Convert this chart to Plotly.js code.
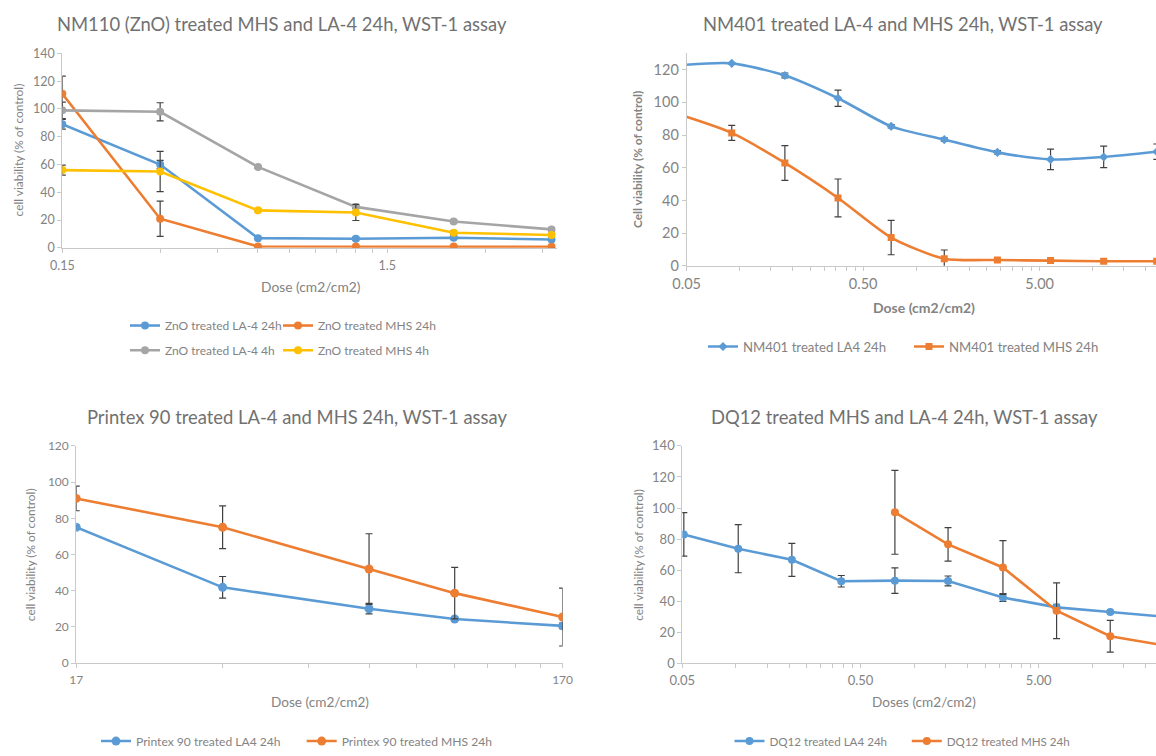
<!DOCTYPE html>
<html>
<head>
<meta charset="utf-8">
<script src="https://cdn.plot.ly/plotly-3.0.1.min.js"></script>
<style>html,body{margin:0;padding:0;background:#fff;overflow:hidden;}#chart{width:1156px;height:756px;}</style>
</head>
<body>
<div id="chart"></div>
<script>
// ---------------- DATA ----------------
// Panel 1: NM110 (ZnO)
const doseZnO = [0.15, 0.3, 0.6, 1.2, 2.4, 4.8];
const znoLA4_24h = [89, 60, 7, 6.5, 7.3, 6];
const znoLA4_24hErr = [3.5, 3, 1, 1, 1, 1];
const znoMHS_24h = [111, 21, 1, 1, 1, 0.8];
const znoMHS_24hErr = [12.6, 12.7, 0.5, 0.5, 0.5, 0.5];
const znoLA4_4h = [99, 98, 58.3, 29.5, 19, 13.3];
const znoLA4_4hErr = [6, 6.5, 1, 1, 1, 1];
const znoMHS_4h = [56, 55, 27, 25.5, 10.9, 9.3];
const znoMHS_4hErr = [3.6, 14.5, 1, 5.8, 1.5, 1];

// Panel 2: NM401
const dose401 = [0.045, 0.09, 0.18, 0.36, 0.72, 1.44, 2.88, 5.76, 11.52, 23.04];
const nm401LA4 = [122.6, 123.8, 116.4, 102.5, 85.3, 77.2, 69.4, 65.1, 66.6, 69.8];
const nm401LA4Err = [1, 0.5, 1.5, 5, 1, 1, 1, 6.3, 6.6, 4.7];
const nm401MHS = [92.7, 81.3, 62.9, 41.5, 17.3, 4.4, 3.6, 3.2, 2.8, 2.8];
const nm401MHSErr = [3, 4.6, 10.6, 11.6, 10.5, 5.3, 0.5, 0.5, 0.5, 0.5];

// Panel 3: Printex 90
const doseP90 = [17, 34, 68, 102, 170];
const p90LA4 = [75.1, 41.9, 30.1, 24.4, 20.6];
const p90LA4Err = [1, 6, 2.9, 1, 1.5];
const p90MHS = [91, 75.1, 52, 38.7, 25.5];
const p90MHSErr = [6.8, 11.8, 19.5, 14.2, 16];

// Panel 4: DQ12
const doseDQ_LA4 = [0.051, 0.103, 0.206, 0.39, 0.78, 1.55, 3.15, 6.3, 12.6, 25.2];
const dqLA4 = [83, 73.8, 66.6, 52.8, 53.2, 53, 42.3, 36, 33, 30];
const dqLA4Err = [14, 15.5, 10.6, 3.7, 8.2, 3.2, 2.5, 2, 0.5, 0.5];
const doseDQ_MHS = [0.78, 1.55, 3.15, 6.3, 12.6, 25.2];
const dqMHS = [97.2, 76.6, 61.7, 33.8, 17.4, 11.5];
const dqMHSErr = [27, 10.8, 17.3, 18, 10.2, 2];

// Tick positions / labels (Excel-style log axes)
const ticksZnO = [0.15, 0.3, 0.45, 0.6, 0.75, 0.9, 1.05, 1.2, 1.35, 1.5, 3, 4.5];
const labelsZnO = ['0.15', '', '', '', '', '', '', '', '', '1.5', '', ''];
const ticksNM = [0.05, 0.1, 0.15, 0.2, 0.25, 0.3, 0.35, 0.4, 0.45, 0.5, 1, 1.5, 2, 2.5, 3, 3.5, 4, 4.5, 5, 10, 15, 20];
const labelsNM = ['0.05', '', '', '', '', '', '', '', '', '0.50', '', '', '', '', '', '', '', '', '5.00', '', '', ''];
const ticksP90 = [17, 34, 51, 68, 85, 102, 119, 136, 153, 170];
const labelsP90 = ['17', '', '', '', '', '', '', '', '', '170'];

// ---------------- STYLE ----------------
const W = 1156, H = 756;
const FONT = 'Lato, "Open Sans", sans-serif';
const C = {blue: '#5B9BD5', orange: '#ED7D31', gray: '#A5A5A5', yellow: '#FFC000'};
const TXT = '#838383', TITLE = '#717171', AXL = '#C9C9C9', ERR = '#404040';
const fx = p => p / W;
const fy = p => 1 - p / H;

function tr(x, y, err, name, color, xa, ya, leg, sym, msize, shape) {
  return {
    type: 'scatter', mode: 'lines+markers', x: x, y: y, name: name,
    xaxis: xa, yaxis: ya, legend: leg,
    line: {color: color, width: 2.6, shape: shape || 'linear', smoothing: 0.7},
    marker: {color: color, size: msize, symbol: sym},
    error_y: {type: 'data', array: err, visible: true, color: ERR, thickness: 1.2, width: 3.5},
    cliponaxis: true, hoverinfo: 'x+y+name'
  };
}

const data = [
  tr(doseZnO, znoLA4_24h, znoLA4_24hErr, 'ZnO treated LA-4 24h', C.blue, 'x', 'y', 'legend', 'circle', 8),
  tr(doseZnO, znoMHS_24h, znoMHS_24hErr, 'ZnO treated MHS 24h', C.orange, 'x', 'y', 'legend2', 'circle', 8),
  tr(doseZnO, znoLA4_4h, znoLA4_4hErr, 'ZnO treated LA-4 4h', C.gray, 'x', 'y', 'legend3', 'circle', 8),
  tr(doseZnO, znoMHS_4h, znoMHS_4hErr, 'ZnO treated MHS 4h', C.yellow, 'x', 'y', 'legend4', 'circle', 8),
  tr(dose401, nm401LA4, nm401LA4Err, 'NM401 treated LA4 24h', C.blue, 'x2', 'y2', 'legend5', 'diamond', 7, 'spline'),
  tr(dose401, nm401MHS, nm401MHSErr, 'NM401 treated MHS 24h', C.orange, 'x2', 'y2', 'legend6', 'square', 7, 'spline'),
  tr(doseP90, p90LA4, p90LA4Err, 'Printex 90 treated LA4 24h', C.blue, 'x3', 'y3', 'legend7', 'circle', 9),
  tr(doseP90, p90MHS, p90MHSErr, 'Printex 90 treated MHS 24h', C.orange, 'x3', 'y3', 'legend8', 'circle', 9),
  tr(doseDQ_LA4, dqLA4, dqLA4Err, 'DQ12 treated LA4 24h', C.blue, 'x4', 'y4', 'legend9', 'circle', 8),
  tr(doseDQ_MHS, dqMHS, dqMHSErr, 'DQ12 treated MHS 24h', C.orange, 'x4', 'y4', 'legend10', 'circle', 8)
];

function xaxis(dom, range, tv, tt, fs, anchor, standoff) {
  return {type: 'log', domain: dom, range: range, anchor: anchor,
    showgrid: false, zeroline: false, showline: true, linecolor: AXL, linewidth: 1,
    ticks: 'outside', ticklen: 4, tickcolor: AXL, tickwidth: 1,
    tickmode: 'array', tickvals: tv, ticktext: tt, ticklabelstandoff: standoff,
    tickfont: {family: FONT, size: fs, color: TXT}, fixedrange: true};
}
function yaxis(dom, range, fs, anchor) {
  return {domain: dom, range: range, anchor: anchor, tickmode: 'linear', tick0: 0, dtick: 20,
    showgrid: false, zeroline: false, showline: true, linecolor: AXL, linewidth: 1,
    ticks: 'outside', ticklen: 4, tickcolor: AXL, tickwidth: 1,
    tickfont: {family: FONT, size: fs, color: TXT}, fixedrange: true};
}
const L10 = Math.log10;

function legendAt(xText, yc, fs) {
  return {x: fx(xText - 40), y: fy(yc), xanchor: 'left', yanchor: 'middle', orientation: 'h',
    bgcolor: 'rgba(0,0,0,0)', borderwidth: 0, itemwidth: 30,
    font: {family: FONT, size: fs, color: TXT}};
}

function ann(text, x, y, fs, color, opts) {
  return Object.assign({text: text, xref: 'paper', yref: 'paper', x: fx(x), y: fy(y),
    xanchor: 'center', yanchor: 'middle', showarrow: false,
    font: {family: FONT, size: fs, color: color}}, opts || {});
}

const layout = {
  width: W, height: H, margin: {l: 0, r: 0, t: 0, b: 0},
  paper_bgcolor: '#fff', plot_bgcolor: '#fff', showlegend: true,
  xaxis: xaxis([fx(62.3), fx(557.3)], [L10(0.15), L10(5)], ticksZnO, labelsZnO, 12.5, 'y', 2),
  yaxis: yaxis([fy(250.5), fy(54)], [0, 140], 12.5, 'x'),
  xaxis2: xaxis([fx(686.7), 1], [L10(0.05), L10(0.05) + (W - 686.7) / 176.5], ticksNM, labelsNM, 14.5, 'y2', 1),
  yaxis2: yaxis([fy(268.7), fy(53.8)], [0, 130], 14.5, 'x2'),
  xaxis3: xaxis([fx(76.2), fx(562.6)], [L10(17), L10(170)], ticksP90, labelsP90, 12, 'y3', 1),
  yaxis3: yaxis([fy(670.3), fy(450.7)], [0, 120], 12, 'x3'),
  xaxis4: xaxis([fx(682.3), 1], [L10(0.05), L10(0.05) + (W - 682.3) / 178.2], ticksNM, labelsNM, 13, 'y4', 1),
  yaxis4: yaxis([fy(670.3), fy(450.7)], [0, 140], 13, 'x4'),
  legend: legendAt(165, 329, 12),
  legend2: legendAt(318, 329, 12),
  legend3: legendAt(165, 354, 12),
  legend4: legendAt(318, 354, 12),
  legend5: legendAt(743, 350.7, 13.2),
  legend6: legendAt(949, 350.7, 13.2),
  legend7: legendAt(136, 749, 12.1),
  legend8: legendAt(341.7, 749, 12.1),
  legend9: legendAt(769.5, 749, 11.6),
  legend10: legendAt(946.8, 749, 11.6),
  annotations: [
    ann('NM110 (ZnO) treated MHS and LA-4 24h, WST-1 assay', 282, 24, 18.4, TITLE),
    ann('NM401 treated LA-4 and MHS 24h, WST-1 assay', 903, 24, 18.4, TITLE),
    ann('Printex 90 treated LA-4 and MHS 24h, WST-1 assay', 297, 421.7, 18.4, TITLE),
    ann('DQ12 treated MHS and LA-4 24h, WST-1 assay', 905, 421.7, 18.4, TITLE),
    ann('Dose (cm2/cm2)', 311, 289.3, 13.8, TXT),
    ann('cell viability (% of control)', 18, 152, 11.9, TXT, {textangle: -90}),
    ann('<b>Dose (cm2/cm2)</b>', 924, 310.7, 14, TXT),
    ann('<b>Cell viability (% of control)</b>', 638, 161.7, 11.9, TXT, {textangle: -90}),
    ann('Dose (cm2/cm2)', 319.6, 709.3, 13.6, TXT),
    ann('cell viability (% of control)', 30.6, 560.5, 11.9, TXT, {textangle: -90}),
    ann('Doses (cm2/cm2)', 924, 709.3, 13.6, TXT),
    ann('cell viability (% of control)', 638.3, 560.5, 11.8, TXT, {textangle: -90})
  ]
};

Plotly.newPlot('chart', data, layout, {displayModeBar: false, staticPlot: true});
</script>
</body>
</html>
